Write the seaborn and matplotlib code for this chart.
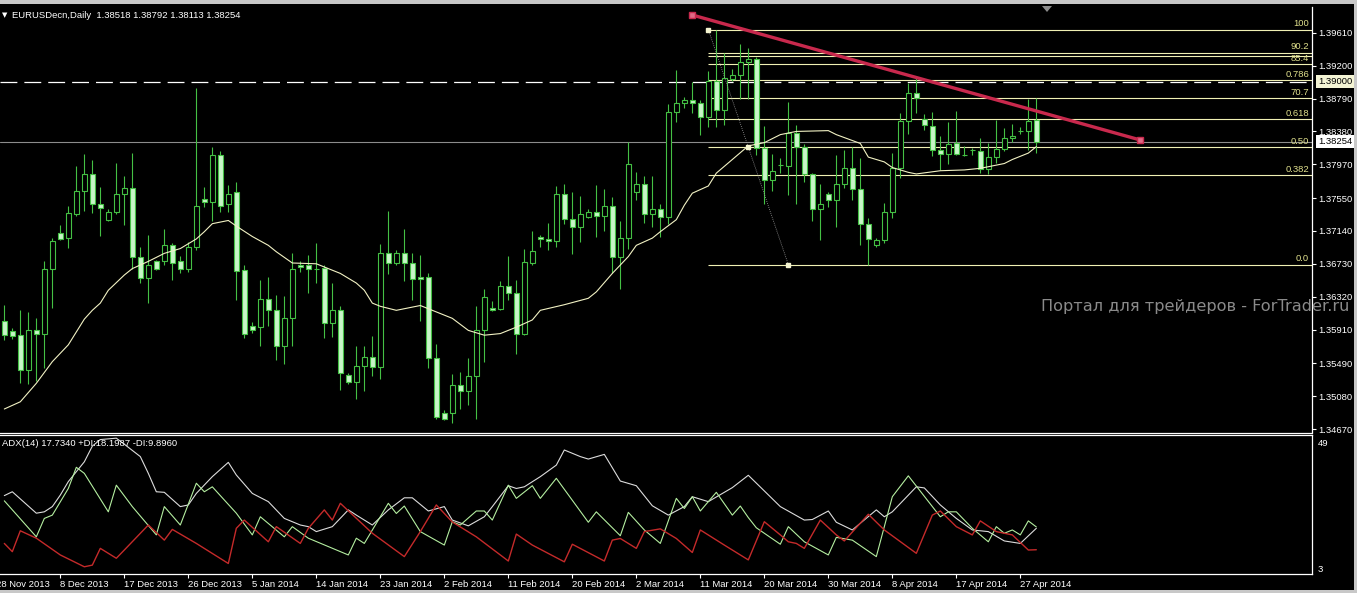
import numpy as np
import seaborn as sns
import matplotlib
matplotlib.use("Agg")
import matplotlib.pyplot as plt
from matplotlib.patches import Rectangle, Polygon

# EURUSD daily candles (bar 0 .. bar 129)
opens = [1.3602, 1.3589, 1.3584, 1.3541, 1.3591, 1.3585, 1.3667, 1.3712, 1.3705, 1.3735,
         1.3764, 1.3785, 1.3748, 1.3727, 1.3737, 1.3760, 1.3768, 1.3681, 1.3655, 1.3676,
         1.3676, 1.3697, 1.3677, 1.3667, 1.3694, 1.3754, 1.3750, 1.3808, 1.3748, 1.3762,
         1.3665, 1.3595, 1.3594, 1.3629, 1.3616, 1.3570, 1.3606, 1.3672, 1.3671, 1.3667,
         1.3668, 1.3599, 1.3615, 1.3534, 1.3526, 1.3545, 1.3557, 1.3544, 1.3687, 1.3674,
         1.3687, 1.3674, 1.3656, 1.3656, 1.3556, 1.3487, 1.3487, 1.3522, 1.3514, 1.3533,
         1.3591, 1.3618, 1.3617, 1.3645, 1.3636, 1.3586, 1.3674, 1.3706, 1.3704, 1.3702,
         1.3760, 1.3729, 1.3719, 1.3731, 1.3737, 1.3733, 1.3745, 1.3681, 1.3705, 1.3762,
         1.3773, 1.3735, 1.3741, 1.3731, 1.3862, 1.3874, 1.3877, 1.3874, 1.3856, 1.3901,
         1.3865, 1.3903, 1.3908, 1.3924, 1.3928, 1.3817, 1.3778, 1.3796, 1.3795, 1.3836,
         1.3819, 1.3785, 1.3741, 1.3760, 1.3752, 1.3773, 1.3792, 1.3766, 1.3722, 1.3696,
         1.3703, 1.3738, 1.3792, 1.3851, 1.3886, 1.3854, 1.3845, 1.3815, 1.3810, 1.3823,
         1.3809, 1.3815, 1.3814, 1.3791, 1.3806, 1.3816, 1.3830, 1.3839, 1.3839, 1.38518]
highs = [1.3622, 1.3593, 1.3615, 1.3613, 1.3606, 1.3677, 1.3705, 1.3721, 1.3745, 1.3795,
         1.3810, 1.3802, 1.3769, 1.3741, 1.3799, 1.3782, 1.3811, 1.3694, 1.3709, 1.3678,
         1.3716, 1.3699, 1.3683, 1.3700, 1.3892, 1.3769, 1.3819, 1.3813, 1.3771, 1.3775,
         1.3672, 1.3600, 1.3653, 1.3656, 1.3634, 1.3633, 1.3687, 1.3676, 1.3684, 1.3699,
         1.3672, 1.3649, 1.3620, 1.3537, 1.3570, 1.3570, 1.3583, 1.3698, 1.3739, 1.3690,
         1.3716, 1.3687, 1.3684, 1.3661, 1.3573, 1.3491, 1.3536, 1.3538, 1.3556, 1.3620,
         1.3642, 1.3627, 1.3652, 1.3683, 1.3653, 1.3691, 1.3714, 1.3709, 1.3724, 1.3770,
         1.3773, 1.3762, 1.3758, 1.3741, 1.3771, 1.3766, 1.3756, 1.3726, 1.3825, 1.3787,
         1.3782, 1.3782, 1.3748, 1.3872, 1.3915, 1.3881, 1.3899, 1.3877, 1.3913, 1.3965,
         1.3936, 1.3916, 1.3947, 1.3942, 1.3931, 1.3845, 1.3810, 1.3805, 1.3875, 1.3846,
         1.3822, 1.3786, 1.3773, 1.3763, 1.3809, 1.3815, 1.3819, 1.3805, 1.3730, 1.3705,
         1.3749, 1.3811, 1.3861, 1.3898, 1.3906, 1.3860, 1.3862, 1.3832, 1.3850, 1.3863,
         1.3820, 1.3817, 1.3830, 1.3823, 1.3852, 1.3842, 1.3847, 1.3843, 1.3879, 1.38792]
lows = [1.3578, 1.3579, 1.3525, 1.3523, 1.3527, 1.3543, 1.3618, 1.3703, 1.3693, 1.3733,
        1.3739, 1.3736, 1.3708, 1.3726, 1.3735, 1.3721, 1.3667, 1.3649, 1.3624, 1.3665,
        1.3672, 1.3653, 1.3662, 1.3663, 1.3690, 1.3744, 1.3726, 1.3738, 1.3738, 1.3628,
        1.3580, 1.3587, 1.3570, 1.3595, 1.3553, 1.3548, 1.3570, 1.3663, 1.3636, 1.3649,
        1.3580, 1.3582, 1.3516, 1.3523, 1.3505, 1.3515, 1.3533, 1.3530, 1.3660, 1.3672,
        1.3652, 1.3628, 1.3602, 1.3543, 1.3479, 1.3478, 1.3475, 1.3492, 1.3497, 1.3480,
        1.3551, 1.3614, 1.3615, 1.3628, 1.3561, 1.3584, 1.3672, 1.3694, 1.3690, 1.3694,
        1.3723, 1.3685, 1.3700, 1.3730, 1.3707, 1.3714, 1.3661, 1.3642, 1.3692, 1.3753,
        1.3724, 1.3719, 1.3706, 1.3723, 1.3850, 1.3867, 1.3861, 1.3833, 1.3843, 1.3844,
        1.3846, 1.3901, 1.3878, 1.3879, 1.3809, 1.3748, 1.3764, 1.3786, 1.3759, 1.3748,
        1.3775, 1.3726, 1.3703, 1.3744, 1.3719, 1.3768, 1.3753, 1.3697, 1.3672, 1.3694,
        1.3699, 1.3730, 1.3780, 1.3835, 1.3861, 1.3840, 1.3807, 1.3790, 1.3798, 1.3809,
        1.3807, 1.3809, 1.3786, 1.3785, 1.3799, 1.3813, 1.3825, 1.3835, 1.3815, 1.38113]
closes = [1.3584, 1.3583, 1.3541, 1.3591, 1.3585, 1.3667, 1.3701, 1.3704, 1.3736, 1.3764,
          1.3785, 1.3748, 1.3742, 1.3737, 1.3760, 1.3768, 1.3681, 1.3655, 1.3671, 1.3666,
          1.3697, 1.3674, 1.3667, 1.3694, 1.3745, 1.3750, 1.3808, 1.3745, 1.3760, 1.3664,
          1.3586, 1.3591, 1.3629, 1.3616, 1.3570, 1.3606, 1.3666, 1.3669, 1.3667, 1.3667,
          1.3599, 1.3615, 1.3537, 1.3526, 1.3546, 1.3557, 1.3544, 1.3687, 1.3674, 1.3687,
          1.3674, 1.3654, 1.3654, 1.3556, 1.3482, 1.3480, 1.3522, 1.3515, 1.3533, 1.3591,
          1.3631, 1.3615, 1.3645, 1.3636, 1.3586, 1.3675, 1.3689, 1.3704, 1.3702, 1.3760,
          1.3729, 1.3719, 1.3735, 1.3737, 1.3733, 1.3745, 1.3681, 1.3705, 1.3798, 1.3773,
          1.3735, 1.3741, 1.3731, 1.3862, 1.3873, 1.3877, 1.3874, 1.3856, 1.3901, 1.3865,
          1.3905, 1.3908, 1.3924, 1.3928, 1.3817, 1.3778, 1.3789, 1.3796, 1.3836, 1.3819,
          1.3785, 1.3741, 1.3748, 1.3752, 1.3773, 1.3792, 1.3766, 1.3722, 1.3704, 1.3703,
          1.3738, 1.3792, 1.3851, 1.3886, 1.3880, 1.3846, 1.3815, 1.3810, 1.3822, 1.3810,
          1.3809, 1.3815, 1.3791, 1.3806, 1.3816, 1.3830, 1.3832, 1.3839, 1.3851, 1.38254]

# moving average (pale line), read at these bars
ma_idx = [0, 2, 4, 6, 8, 10, 11, 12, 13, 15, 16, 18, 20, 22, 24, 25, 26, 28, 29, 31,
          33, 34, 36, 39, 40, 42, 44, 45, 46, 47, 49, 52, 54, 56, 58, 60, 62, 64, 66, 67,
          70, 73, 74, 76, 78, 79, 81, 82, 84, 85, 86, 88, 89, 91, 93, 95, 97, 99, 103, 104,
          107, 108, 110, 111, 113, 114, 117, 120, 122, 125, 126, 128, 129]
ma_val = [1.3492, 1.3501, 1.3524, 1.3551, 1.3572, 1.3604, 1.3615, 1.3624, 1.3640, 1.3659,
          1.3667, 1.3676, 1.3686, 1.3692, 1.3704, 1.3713, 1.3723, 1.3727, 1.3720, 1.3707,
          1.3696, 1.3688, 1.3674, 1.3673, 1.3669, 1.3661, 1.3649, 1.3640, 1.3624, 1.3620,
          1.3615, 1.3621, 1.3613, 1.3605, 1.3590, 1.3584, 1.3586, 1.3594, 1.3603, 1.3615,
          1.3622, 1.3630, 1.3638, 1.3661, 1.3682, 1.3696, 1.3705, 1.3713, 1.3728, 1.3746,
          1.3761, 1.3770, 1.3786, 1.3803, 1.3820, 1.3824, 1.3834, 1.3838, 1.3839, 1.3834,
          1.3823, 1.3806, 1.3800, 1.3793, 1.3787, 1.3785, 1.3789, 1.3790, 1.3792, 1.3798,
          1.3803, 1.3811, 1.3819]

# ADX(14) panel, line vertices (bar, value)
adx_idx = [0, 1, 4, 5, 6, 7, 8, 10, 11, 12, 14, 15, 17, 18, 19, 20, 22, 23, 24, 26,
           28, 29, 31, 33, 35, 37, 38, 39, 41, 43, 44, 46, 48, 50, 51, 53, 55, 56, 58, 60,
           61, 63, 64, 65, 67, 69, 70, 72, 73, 75, 77, 79, 81, 83, 85, 86, 88, 91, 93, 97,
           100, 101, 103, 104, 106, 109, 110, 111, 114, 115, 117, 119, 121, 123, 125, 127, 129]
adx_val = [29.6, 31.0, 23.2, 23.7, 25.6, 29.8, 34.7, 41.9, 47.6, 50.0, 50.5, 48.3, 43.8, 37.7,
           31.0, 30.8, 25.6, 26.2, 30.4, 36.5, 41.7, 37.1, 30.4, 27.4, 21.3, 18.9, 18.3, 16.5,
           18.3, 24.4, 22.5, 18.9, 24.4, 28.8, 28.8, 24.0, 25.6, 20.7, 18.6, 21.9, 25.6, 33.2,
           32.2, 32.8, 36.5, 40.7, 46.2, 43.8, 42.9, 44.6, 34.9, 33.2, 25.9, 22.5, 25.6, 29.2,
           27.4, 32.5, 37.0, 25.6, 20.7, 20.9, 24.0, 19.9, 17.1, 24.4, 21.9, 23.7, 32.8, 32.4,
           26.2, 21.3, 17.1, 16.5, 13.1, 12.2, 17.7]
pdi_idx = [0, 4, 5, 6, 8, 9, 10, 13, 14, 16, 19, 20, 22, 24, 25, 26, 29, 31, 32, 35,
           36, 38, 43, 44, 45, 48, 49, 50, 52, 55, 56, 57, 59, 60, 61, 63, 64, 66, 67, 69,
           73, 74, 77, 78, 80, 82, 84, 85, 86, 87, 89, 91, 92, 93, 94, 97, 98, 100, 103, 104,
           106, 109, 111, 113, 117, 118, 119, 121, 123, 124, 125, 126, 127, 128, 129]
pdi_val = [27.7, 14.6, 21.3, 22.5, 32.2, 39.9, 37.7, 23.7, 33.4, 25.6, 15.3, 25.6, 18.9, 34.1,
           31.0, 32.8, 23.2, 15.3, 21.9, 14.6, 18.3, 14.1, 8.0, 14.1, 12.2, 26.8, 23.1, 25.8,
           16.5, 11.6, 20.1, 18.9, 24.0, 24.0, 20.7, 33.4, 28.6, 33.2, 28.6, 35.9, 19.9, 23.7,
           15.0, 23.5, 17.1, 12.2, 28.6, 24.9, 29.2, 24.0, 30.8, 22.5, 25.8, 21.6, 17.9, 11.9,
           18.3, 12.8, 8.0, 14.4, 13.4, 7.4, 29.2, 36.8, 21.9, 23.7, 23.7, 17.7, 12.8, 18.3,
           15.9, 17.1, 15.3, 20.4, 18.2]
mdi_idx = [0, 1, 2, 4, 7, 10, 11, 12, 14, 15, 18, 20, 21, 24, 28, 29, 30, 33, 34, 37,
           38, 40, 41, 42, 46, 50, 52, 54, 56, 59, 63, 64, 66, 70, 71, 75, 76, 77, 79, 80,
           82, 84, 86, 87, 90, 93, 95, 97, 98, 99, 100, 102, 104, 105, 108, 110, 114, 116, 117, 119,
           121, 122, 124, 126, 128, 129]
mdi_val = [12.2, 9.2, 16.8, 14.1, 8.0, 3.7, 4.3, 10.4, 6.8, 9.8, 18.9, 13.4, 17.3, 12.2,
           4.9, 17.7, 20.7, 12.8, 18.3, 12.2, 17.7, 24.4, 20.7, 26.8, 15.9, 7.4, 16.5, 26.2,
           20.0, 14.6, 5.8, 15.6, 11.6, 5.5, 11.9, 5.8, 13.4, 14.0, 10.4, 16.5, 17.5, 14.0,
           8.9, 17.1, 11.6, 6.2, 20.1, 15.3, 12.8, 12.2, 10.4, 20.7, 15.3, 13.1, 22.8, 17.1,
           8.6, 22.5, 24.0, 18.3, 15.3, 20.4, 16.5, 15.3, 9.8, 9.9]

# axis labels
price_ticks = [1.34670, 1.35080, 1.35490, 1.35910, 1.36320, 1.36730, 1.37140,
               1.37550, 1.37970, 1.38380, 1.38790, 1.39200, 1.39610]
date_idx = [-1, 7, 15, 23, 31, 39, 47, 55, 63, 71, 79, 87, 95, 103, 111, 119, 127]
date_lbl = ['28 Nov 2013', '8 Dec 2013', '17 Dec 2013', '26 Dec 2013', '5 Jan 2014',
            '14 Jan 2014', '23 Jan 2014', '2 Feb 2014', '11 Feb 2014', '20 Feb 2014',
            '2 Mar 2014', '11 Mar 2014', '20 Mar 2014', '30 Mar 2014', '8 Apr 2014',
            '17 Apr 2014', '27 Apr 2014']

# fibonacci grid and the trend line
fib_lo, fib_hi = 1.3672, 1.3965
fib_bars = [88, 98]
fib_levels = [0.0, 0.382, 0.5, 0.618, 0.707, 0.786, 0.854, 0.886, 0.902, 1.0]
fib_labels = ['0.0', '0.382', '0.50', '0.618', '70.7', '0.786', '85.4', '', '90.2', '100']
trend_bars = [86, 142]
trend_px = [1.39831, 1.38273]
level_line = 1.39000
last_price = 1.38254

sns.set_theme(style='dark', rc={'axes.facecolor': 'black', 'figure.facecolor': 'black',
                                'axes.grid': False})
plt.rcParams['font.family'] = ['Liberation Sans', 'DejaVu Sans']

W, H = 1357, 593
def box(x0, y0, x1, y1):
    return [x0 / W, 1 - y1 / H, (x1 - x0) / W, (y1 - y0) / H]

fig = plt.figure(figsize=(W / 100, H / 100), dpi=100, facecolor='black')
ax = fig.add_axes(box(0, 7, 1312, 432.5))
ax2 = fig.add_axes(box(0, 434.5, 1312, 574))

XMIN, XMAX = -0.54, 163.46
edge = '#44c044'
fill = '#c8f5c8'
fs = 6.8

# ---- candles ----
o = np.array(opens); h = np.array(highs); l = np.array(lows); c = np.array(closes)
x = np.arange(len(o))
bull = c > o
lo_body = np.minimum(o, c)
hgt = np.abs(c - o)
ax.vlines(x, l, h, color=edge, lw=0.8, zorder=3)
ax.bar(x[bull], hgt[bull], bottom=lo_body[bull], width=0.62, facecolor='black',
       edgecolor=edge, linewidth=0.8, zorder=4)
ax.bar(x[~bull], hgt[~bull], bottom=lo_body[~bull], width=0.62, facecolor=fill,
       edgecolor=edge, linewidth=0.8, zorder=4)

sns.lineplot(x=ma_idx, y=ma_val, ax=ax, color='#f2f2c4', linewidth=0.8, estimator=None, zorder=5)

# ---- horizontal lines ----
ax.axhline(level_line, color='white', lw=0.9, ls=(0, (13.5, 5.6)), zorder=2)
ax.axhline(last_price, color='#8c8c8c', lw=0.8, zorder=2)

# fibonacci levels
fib_px = [fib_lo + f * (fib_hi - fib_lo) for f in fib_levels]
ax.hlines(fib_px, fib_bars[0], XMAX, color='#f0f0b4', lw=0.8, zorder=2)
for p, t in zip(fib_px, fib_labels):
    ax.annotate(t, xy=(1.0, p), xycoords=ax.get_yaxis_transform(), xytext=(-2, 0.8),
                textcoords='offset points', ha='right', va='bottom', color='#e0e08c',
                fontsize=fs, annotation_clip=False)
ax.plot(fib_bars, [fib_hi, fib_lo], color='#a0a0a0', lw=0.6, ls=(0, (1, 1.5)), zorder=6)
ax.plot([fib_bars[0], np.mean(fib_bars), fib_bars[1]],
        [fib_hi, (fib_hi + fib_lo) / 2, fib_lo], ls='none', marker='s', ms=3.2,
        mfc='#f4f4d0', mec='#f4f4d0', zorder=7)

# trend line
ax.plot(trend_bars, trend_px, color='#c8294d', lw=2.4, solid_capstyle='butt', zorder=8)
ax.plot(trend_bars, trend_px, ls='none', marker='s', ms=4.5, mfc='#e06a86', mec='#c8294d',
        mew=1, zorder=9)

ax.set_xlim(XMIN, XMAX)
ax.set_ylim(1.34627, 1.39931)
ax.set_xticks([])
ax.set_yticks(price_ticks)
ax.set_yticklabels([f'{p:.5f}' for p in price_ticks])
ax.yaxis.tick_right()
ax.tick_params(axis='y', right=True, left=False, length=3, width=0.8, color='white',
               labelcolor='white', labelsize=fs, pad=1.5, direction='out')
for s in ['left', 'top']:
    ax.spines[s].set_visible(False)
for s in ['right', 'bottom']:
    ax.spines[s].set_color('white')
    ax.spines[s].set_linewidth(0.9)

for p, bg in [(level_line, '#f4f4d4'), (last_price, 'white')]:
    ax.annotate(f'{p:.5f}', xy=(1.0, p), xycoords=ax.get_yaxis_transform(), xytext=(4.2, 0),
                textcoords='offset points', ha='left', va='center', fontsize=fs, color='black',
                bbox=dict(boxstyle='square,pad=0.18', fc=bg, ec='none'), annotation_clip=False)

# ---- ADX panel ----
sns.lineplot(x=adx_idx, y=adx_val, ax=ax2, color='#dcdcdc', linewidth=0.8, estimator=None)
sns.lineplot(x=pdi_idx, y=pdi_val, ax=ax2, color='#b4eea0', linewidth=0.8, estimator=None)
sns.lineplot(x=mdi_idx, y=mdi_val, ax=ax2, color='#c42a2a', linewidth=1.0, estimator=None)
ax2.set_xlim(XMIN, XMAX)
ax2.set_ylim(1.07, 51.84)
ax2.set_yticks([3, 49])
ax2.set_yticklabels(['3', '49'])
ax2.yaxis.tick_right()
ax2.tick_params(axis='y', right=True, left=False, length=0, labelcolor='white',
                labelsize=fs, pad=4)
ax2.set_xticks(date_idx[1:])
ax2.set_xticklabels(date_lbl[1:], ha='left')
ax2.tick_params(axis='x', bottom=True, length=2.8, width=0.8, color='white',
                labelcolor='white', labelsize=fs, pad=1.2, direction='out')
# first date label sits partly off the left edge, as in the terminal window
ax2.annotate(date_lbl[0], xy=(date_idx[0], 0), xycoords=ax2.get_xaxis_transform(),
             xytext=(0, -4.0), textcoords='offset points', ha='left', va='top',
             color='white', fontsize=fs, annotation_clip=False)
ax2.spines['left'].set_visible(False)
for s in ['right', 'bottom', 'top']:
    ax2.spines[s].set_color('white')
    ax2.spines[s].set_linewidth(0.9)
ax.set_xlabel(''); ax.set_ylabel('')
ax2.set_xlabel(''); ax2.set_ylabel('')

# ---- texts ----
fig.text(2 / W, 1 - 15 / H, '▼', fontsize=5, color='white', family='DejaVu Sans', va='center')
fig.text(11.5 / W, 1 - 15 / H, 'EURUSDecn,Daily  1.38518 1.38792 1.38113 1.38254',
         fontsize=fs, color='white', va='center')
fig.text(2 / W, 1 - 444 / H, 'ADX(14) 17.7340 +DI:18.1987 -DI:9.8960',
         fontsize=fs, color='white', va='center')
fig.text(1041 / W, 1 - 307 / H, 'Портал для трейдеров - ForTrader.ru', fontsize=11.6,
         color='#8a8a8a', family='DejaVu Sans', va='center', ha='left')

# window frame and shift marker
fig.patches.append(Rectangle((0, 1 - 4 / H), 1, 4 / H, transform=fig.transFigure,
                             fc='#c8c8c8', ec='none'))
fig.patches.append(Rectangle((1354 / W, 0), 3 / W, 1, transform=fig.transFigure,
                             fc='#c8c8c8', ec='none'))
fig.patches.append(Rectangle((0, 0), 1, 3 / H, transform=fig.transFigure,
                             fc='#c8c8c8', ec='none'))
fig.patches.append(Polygon([(1042 / W, 1 - 6 / H), (1052 / W, 1 - 6 / H), (1047 / W, 1 - 12 / H)],
                           closed=True, transform=fig.transFigure, fc='#8c8c8c', ec='none'))

fig.savefig('out.png', dpi=100, facecolor='black')
